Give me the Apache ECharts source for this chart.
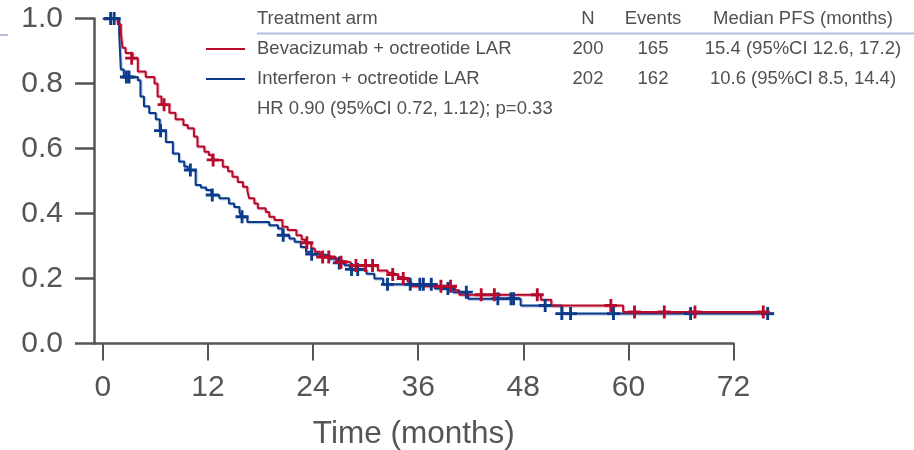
<!DOCTYPE html>
<html>
<head>
<meta charset="utf-8">
<title>PFS</title>
<script src="https://cdn.jsdelivr.net/npm/echarts@6/dist/echarts.min.js"></script>
<style>
    html, body {margin: 0; padding: 0; background: #fff;}
    #chart {width: 914px; height: 450px;}
</style>
</head>
<body>
<div id="chart"></div>
<script>
// KM steps: [month, survival]
var bevaCurve = [[0,1.0],[1.7,0.982],[2.06,0.956],[2.25,0.91],[2.6,0.894],[3.4,0.878],[4.0,0.837],[4.9,0.82],[5.9,0.80],
    [6.25,0.76],[6.7,0.735],[7.6,0.71],[8.3,0.69],[9.2,0.672],[9.7,0.662],[10.4,0.637],[10.8,0.606],[11.6,0.59],
    [12.1,0.58],[12.5,0.565],[13.7,0.544],[14.3,0.53],[14.8,0.513],[15.4,0.497],[16.0,0.482],[16.5,0.47],[16.7,0.447],
    [17.3,0.431],[17.7,0.416],[18.6,0.405],[19.0,0.39],[19.6,0.38],[20.5,0.359],[21.1,0.349],[22.1,0.333],[22.7,0.32],
    [23.1,0.31],[23.8,0.292],[24.2,0.282],[24.8,0.266],[26.6,0.256],[27.1,0.25],[28.3,0.24],[31.4,0.225],[32.5,0.218],
    [33.0,0.212],[33.7,0.205],[34.2,0.2],[34.8,0.19],[35.2,0.176],[40.2,0.164],[40.7,0.15],[50.0,0.135],[51.2,0.117],
    [59.4,0.097],[76.0,0.097]];
var bevaCensor = [[3.3,0.878],[7.0,0.735],[12.6,0.565],[23.3,0.31],[25.1,0.266],[25.8,0.266],[27.2,0.25],[28.9,0.24],
    [30.0,0.24],[30.8,0.24],[33.1,0.212],[34.3,0.2],[38.6,0.176],[39.7,0.176],[43.2,0.15],[44.7,0.15],[49.6,0.15],
    [58.0,0.117],[60.7,0.097],[64.1,0.097],[67.6,0.097],[75.4,0.097]];

var ifnCurve = [[0,1.0],[1.87,0.956],[2.06,0.843],[2.4,0.82],[4.0,0.81],[4.3,0.76],[4.7,0.73],[5.3,0.709],[6.05,0.69],
    [6.5,0.655],[7.2,0.62],[8.0,0.585],[8.7,0.56],[9.3,0.545],[9.7,0.534],[10.6,0.488],[11.2,0.48],[11.8,0.472],
    [12.4,0.457],[13.3,0.447],[14.4,0.431],[15.0,0.42],[15.6,0.405],[15.8,0.39],[16.5,0.374],[19.0,0.364],[20.0,0.354],
    [20.5,0.333],[21.3,0.323],[21.9,0.313],[22.6,0.297],[23.2,0.282],[23.8,0.275],[24.3,0.272],[25.9,0.261],[26.9,0.248],
    [27.6,0.241],[28.2,0.228],[30.1,0.215],[31.0,0.2],[32.0,0.182],[37.9,0.169],[40.0,0.158],[41.7,0.138],[47.7,0.117],
    [52.4,0.092],[76.5,0.092]];
var ifnCensor = [[0.9,1.0],[1.3,1.0],[2.7,0.82],[3.0,0.82],[6.6,0.655],[10.0,0.534],[12.5,0.457],[15.9,0.39],[20.6,0.333],
    [23.85,0.275],[27.0,0.248],[28.4,0.228],[29.1,0.228],[32.5,0.182],[35.1,0.182],[36.2,0.182],[36.6,0.182],[37.5,0.182],
    [39.4,0.169],[41.5,0.158],[45.1,0.138],[46.6,0.138],[46.9,0.138],[50.5,0.117],[52.4,0.092],[53.4,0.092],[58.3,0.092],
    [67.1,0.092],[75.9,0.092]];

var xTicks = [0, 12, 24, 36, 48, 60, 72];

// table beside the curves
var tableHead = ['Treatment arm', 'N', 'Events', 'Median PFS (months)'];
var armNames = ['Bevacizumab + octreotide LAR', 'Interferon + octreotide LAR'];
var armN = ['200', '202'];
var armEvents = ['165', '162'];
var armMedian = ['15.4 (95%CI 12.6, 17.2)', '10.6 (95%CI 8.5, 14.4)'];
var hrText = 'HR 0.90 (95%CI 0.72, 1.12); p=0.33';

var RED = '#B70A2C', BLUE = '#0A3A8A', AXIS = '#555555', TXT = '#505050';
var FONT = '"Liberation Sans", Arial, sans-serif';
var PLUS = 'path://M3.9,0H6.1V3.9H10V6.1H6.1V10H3.9V6.1H0V3.9H3.9Z';

function txt(x, y, s, align) {
    return {
        type: 'text', x: x, y: y,
        style: {text: s, fill: TXT, font: '18.5px ' + FONT, textAlign: align || 'left', textVerticalAlign: 'middle'}
    };
}

var colX = [257, 588, 653, 803];
var rowY = [49, 79];
var graphics = [
    txt(colX[0], 18.5, tableHead[0]),
    txt(colX[1], 18.5, tableHead[1], 'center'),
    txt(colX[2], 18.5, tableHead[2], 'center'),
    txt(colX[3], 18.5, tableHead[3], 'center'),
    {type: 'line', shape: {x1: 257, y1: 33.5, x2: 914, y2: 33.5}, style: {stroke: '#B3C0DD', lineWidth: 2}},
    {type: 'line', shape: {x1: 0, y1: 35, x2: 8, y2: 35}, style: {stroke: '#B3C0DD', lineWidth: 2}},
    txt(colX[0], 108.5, hrText)
];
[RED, BLUE].forEach(function (c, i) {
    graphics.push({type: 'line', shape: {x1: 206, y1: rowY[i], x2: 245, y2: rowY[i]}, style: {stroke: c, lineWidth: 2}});
    graphics.push(txt(colX[0], rowY[i], armNames[i]));
    graphics.push(txt(colX[1], rowY[i], armN[i], 'center'));
    graphics.push(txt(colX[2], rowY[i], armEvents[i], 'center'));
    graphics.push(txt(colX[3], rowY[i], armMedian[i], 'center'));
});

// grid 0 carries the visible axes (ending at 72), grid 1 the same scale running to 77 for the data
var pxPerMonth = 639.5 / 73;
var chart = echarts.init(document.getElementById('chart'));
var option = {
    animation: false,
    grid: [
        {left: 94, right: 180.5, top: 18.5, bottom: 106.5, outerBoundsMode: 'none', containLabel: false},
        {left: 94, width: 78 * pxPerMonth, top: 18.5, bottom: 106.5, outerBoundsMode: 'none', containLabel: false}
    ],
    xAxis: [{
        type: 'value',
        gridIndex: 0,
        min: -1,
        max: 72,
        name: 'Time (months)',
        nameLocation: 'middle',
        nameGap: 75,
        nameTextStyle: {color: AXIS, fontSize: 31.5, fontFamily: FONT},
        axisLine: {lineStyle: {color: AXIS, width: 2.5}},
        axisTick: {customValues: xTicks, length: 17, lineStyle: {color: AXIS, width: 2}},
        axisLabel: {customValues: xTicks, margin: 29, color: AXIS, fontSize: 30, fontFamily: FONT},
        splitLine: {show: false}
    }, {
        type: 'value', gridIndex: 1, min: -1, max: 77, show: false
    }],
    yAxis: [{
        type: 'value',
        gridIndex: 0,
        min: 0,
        max: 1,
        interval: 0.2,
        axisLine: {show: true, onZero: false, lineStyle: {color: AXIS, width: 2.5}},
        axisTick: {show: true, length: 19, lineStyle: {color: AXIS, width: 2.5}},
        axisLabel: {
            margin: 31, color: AXIS, fontSize: 30, fontFamily: FONT,
            formatter: function (v) { return v.toFixed(1); }
        },
        splitLine: {show: false}
    }, {
        type: 'value', gridIndex: 1, min: 0, max: 1, show: false
    }],
    graphic: graphics,
    series: [{
        type: 'line', name: armNames[0], data: bevaCurve, step: 'end', xAxisIndex: 1, yAxisIndex: 1,
        showSymbol: false, z: 3,
        lineStyle: {color: RED, width: 2, shadowColor: 'rgba(183,10,44,0.35)', shadowOffsetX: 1, shadowOffsetY: 1, shadowBlur: 1}
    }, {
        type: 'line', name: armNames[1], data: ifnCurve, step: 'end', xAxisIndex: 1, yAxisIndex: 1,
        showSymbol: false, z: 2,
        lineStyle: {color: BLUE, width: 2, shadowColor: 'rgba(10,58,138,0.35)', shadowOffsetX: 1, shadowOffsetY: 1, shadowBlur: 1}
    }, {
        type: 'scatter', data: bevaCensor, xAxisIndex: 1, yAxisIndex: 1, clip: false, symbol: PLUS, symbolSize: 13,
        itemStyle: {color: RED, opacity: 1}, z: 5
    }, {
        type: 'scatter', data: ifnCensor, xAxisIndex: 1, yAxisIndex: 1, clip: false, symbol: PLUS, symbolSize: 13,
        itemStyle: {color: BLUE, opacity: 1}, z: 4
    }]
};
chart.setOption(option);
</script>
</body>
</html>
